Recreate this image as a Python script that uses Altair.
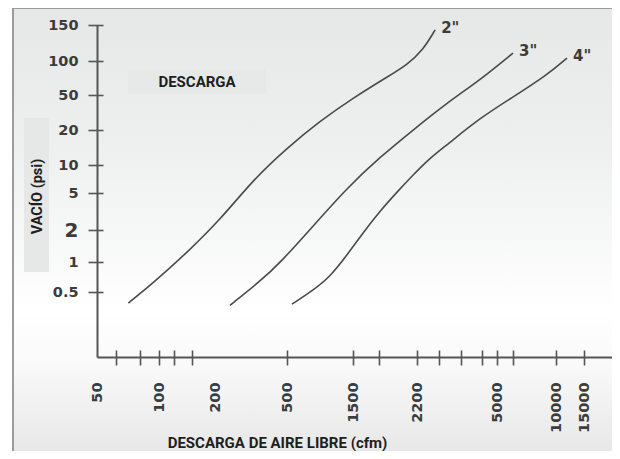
import altair as alt
import pandas as pd

# ---- data ----
cfm_2 = [71, 94, 141, 213, 324, 500, 866, 1500, 1840, 2070, 2340, 2650]
psi_2 = [0.38, 0.62, 1.22, 2.56, 6.9, 14.0, 25.3, 46.2, 72.2, 92.1, 113, 142]
cfm_3 = [242, 355, 458, 771, 1357, 1763, 2148, 2992, 4200, 6035]
psi_3 = [0.36, 0.64, 0.98, 2.2, 5.66, 11.7, 20.0, 40.6, 67.9, 109.4]
cfm_4 = [543, 771, 1023, 1357, 1592, 1763, 1952, 2148, 2514, 2992, 4200, 6035, 8995, 11727]
psi_4 = [0.37, 0.52, 0.71, 1.16, 1.88, 3.2, 5.12, 7.8, 11.5, 14.9, 27.4, 47.4, 75.2, 103.4]
sizes = ['2"', '3"', '4"']

x_label_values = [50, 100, 200, 500, 1500, 2200, 5000, 10000, 15000]
x_tick_values = [62, 81, 100, 120, 150, 500, 1500, 1750, 2200, 2750, 3450, 4300, 5000, 6000, 10000, 15000]
y_values = [0.5, 1, 2, 5, 10, 20, 50, 100, 150]

x_title = "DESCARGA DE AIRE LIBRE  (cfm)"
y_title = "VACÍO (psi)"
box_label = "DESCARGA"

# ---- tables ----
rows = []
for name, xs, ys in zip(sizes, [cfm_2, cfm_3, cfm_4], [psi_2, psi_3, psi_4]):
    for i, (a, b) in enumerate(zip(xs, ys)):
        rows.append({"size": name, "i": i, "cfm": a, "psi": b})
curves = pd.DataFrame(rows)
ends = curves.sort_values("i").groupby("size").tail(1)
one = pd.DataFrame({"k": [0]})

# ---- layout (non-uniform printed axes -> piecewise log scales) ----
W, H = 515, 332
xscale = alt.Scale(type="log", nice=False,
                   domain=[50, 100, 200, 500, 1500, 2200, 5000, 10000, 15000, 20000],
                   range=[0, 62, 118, 190, 256, 320, 400, 459, 487, 515])
yscale = alt.Scale(type="log", nice=False,
                   domain=[0.1, 0.5, 1, 2, 5, 10, 20, 50, 100, 150],
                   range=[332, 267, 237, 205, 168, 140, 105, 70, 36, 0])

AX = "#555555"
LBL = "#3c3c3c"
NUMFONT = "DejaVu Sans"
TFONT = "Roboto"

bg = alt.Chart(one).mark_rect(
    fill={"gradient": "linear", "x1": 0, "y1": 0, "x2": 0, "y2": 1,
          "stops": [{"offset": 0, "color": "#e6e7e7"},
                    {"offset": 0.3, "color": "#eeefef"},
                    {"offset": 0.66, "color": "#ffffff"},
                    {"offset": 0.76, "color": "#fafafa"},
                    {"offset": 1, "color": "#e4e4e4"}]},
    stroke="#9c9c9c", strokeWidth=2,
).encode(x=alt.value(-84), x2=alt.value(521), y=alt.value(-17), y2=alt.value(445))

desc_box = alt.Chart(one).mark_rect(fill="#e7e8e8").encode(
    x=alt.value(31), x2=alt.value(169), y=alt.value(44), y2=alt.value(69))
desc_text = alt.Chart(one).mark_text(
    font=TFONT, fontWeight="bold", fontSize=15, color="#1e1e1e",
    align="center", baseline="middle").encode(
    x=alt.value(100), y=alt.value(57), text=alt.value(box_label))

ytitle_box = alt.Chart(one).mark_rect(fill="#e6e7e7").encode(
    x=alt.value(-73), x2=alt.value(-48), y=alt.value(93), y2=alt.value(247))

lines = alt.Chart(curves).mark_line(
    color="#4a4a4a", strokeWidth=1.6, interpolate="basis"
).encode(
    x=alt.X("cfm:Q", scale=xscale, axis=alt.Axis(
        orient="bottom", values=x_label_values, ticks=False, tickSize=0,
        domain=True, domainColor=AX, domainWidth=2, grid=False, zindex=1,
        labelAngle=270, labelAlign="right", labelBaseline="middle",
        labelPadding=25, labelFont=NUMFONT, labelFontWeight="bold",
        labelFontSize=14.5, labelColor=LBL, labelOverlap=False, labelFlush=False,
        format="d", title=x_title, titleFont=TFONT, titleFontWeight="bold",
        titleFontSize=15, titleColor="#1e1e1e", titleX=180, titleY=90,
        titleAlign="center", titleBaseline="alphabetic", titleAngle=0)),
    y=alt.Y("psi:Q", scale=yscale, axis=alt.Axis(
        orient="left", values=y_values, offset=-6, tickSize=15, tickWidth=1.6,
        tickColor=AX, domain=False, grid=False, labelPadding=10, zindex=1,
        labelFont=NUMFONT, labelFontWeight="bold",
        labelFontSize={"condition": {"test": "datum.value == 2", "value": 20}, "value": 14.5},
        labelColor=LBL, labelOverlap=False, labelBaseline="middle",
        labelExpr="datum.value < 1 ? format(datum.value, '.1f') : format(datum.value, 'd')",
        title=None)),
    detail="size:N",
    order="i:Q",
)

end_labels = alt.Chart(ends).mark_text(
    align="left", baseline="middle", dx=6, dy=-2,
    font=NUMFONT, fontWeight="bold", fontSize=15, color=LBL,
).encode(
    x=alt.X("cfm:Q", scale=xscale, axis=alt.Axis(
        orient="bottom", values=x_tick_values, offset=-7, tickSize=15, zindex=1,
        tickWidth=1.6, tickColor=AX, domain=False, labels=False, grid=False,
        title=None)),
    y=alt.Y("psi:Q", scale=yscale, axis=alt.Axis(
        orient="left", domain=True, domainColor=AX, domainWidth=2, zindex=1,
        ticks=False, labels=False, grid=False, title=y_title,
        titleFont=TFONT, titleFontWeight="bold", titleFontSize=14.5,
        titleColor="#1e1e1e", titleX=-60, titleY=171, titleAngle=270,
        titleAlign="center", titleBaseline="middle")),
    text="size:N",
)

chart = alt.layer(bg, desc_box, ytitle_box, desc_text, lines, end_labels).resolve_axis(
    x="independent", y="independent"
).properties(
    width=W, height=H,
    autosize=alt.AutoSizeParams(type="none"),
    padding={"left": 89, "top": 17, "right": 0, "bottom": 94},
).configure_view(stroke=None)

chart.save("out.html", embed_options={"renderer": "svg", "actions": False})
